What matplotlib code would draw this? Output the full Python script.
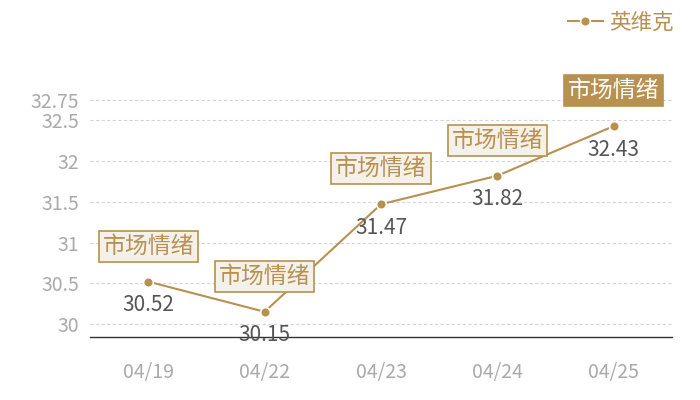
import numpy as np
import matplotlib.pyplot as plt

plt.rcParams['font.family'] = ['Noto Sans CJK SC', 'DejaVu Sans']
plt.rcParams['font.weight'] = 'light'

# data
dates = ['04/19', '04/22', '04/23', '04/24', '04/25']
prices = [30.52, 30.15, 31.47, 31.82, 32.43]
yticks = [30, 30.5, 31, 31.5, 32, 32.5, 32.75]
series_name = '英维克'
tag_text = '市场情绪'

gold = '#b8904f'
x = np.arange(len(dates))

fig = plt.figure(figsize=(7, 4), dpi=100)
ax = fig.add_axes([0.1286, 0.1575, 0.8314, 0.5925])

ax.plot(x, prices, color=gold, linewidth=1.5, marker='o', markersize=7,
        markerfacecolor=gold, markeredgecolor='white', markeredgewidth=1.2,
        label=series_name, zorder=3)

# value labels under each point
for xi, yi in zip(x, prices):
    ax.annotate(f'{yi:.2f}', (xi, yi), xytext=(0, -17), textcoords='offset points',
                ha='center', va='center', fontsize=15, color='#555555', zorder=4)

# sentiment tags above each point
for i, (xi, yi) in enumerate(zip(x, prices)):
    last = i == len(x) - 1
    ax.annotate(tag_text, (xi, yi), xytext=(0, 25.5), textcoords='offset points',
                ha='center', va='center', fontsize=16.5,
                color='white' if last else gold,
                bbox=dict(boxstyle='square,pad=0.17',
                          facecolor=gold if last else '#f4f0ea',
                          edgecolor=gold, linewidth=1.2),
                zorder=5, annotation_clip=False)

ax.set_xlim(-0.5, len(x) - 0.5)
ax.set_ylim(29.84, 32.75)
ax.set_xticks(x)
ax.set_xticklabels(dates)
ax.set_yticks(yticks)
ax.set_yticklabels([f'{t:g}' for t in yticks])
ax.tick_params(axis='both', length=0, labelsize=14, colors='#aaaaaa')
ax.tick_params(axis='x', pad=18)
ax.tick_params(axis='y', pad=8)
ax.yaxis.grid(True, color='#d5d5d5', linestyle=(0, (3, 2)), linewidth=0.8)
for side in ['top', 'right', 'left']:
    ax.spines[side].set_visible(False)
ax.spines['bottom'].set_color('#333333')
ax.spines['bottom'].set_linewidth(1)

leg = fig.legend(loc='upper right', bbox_to_anchor=(0.99, 1.02), frameon=False,
                 fontsize=15.5, handlelength=1.6, handletextpad=0.3)
for t in leg.get_texts():
    t.set_color(gold)

fig.savefig('out.png', dpi=100)
